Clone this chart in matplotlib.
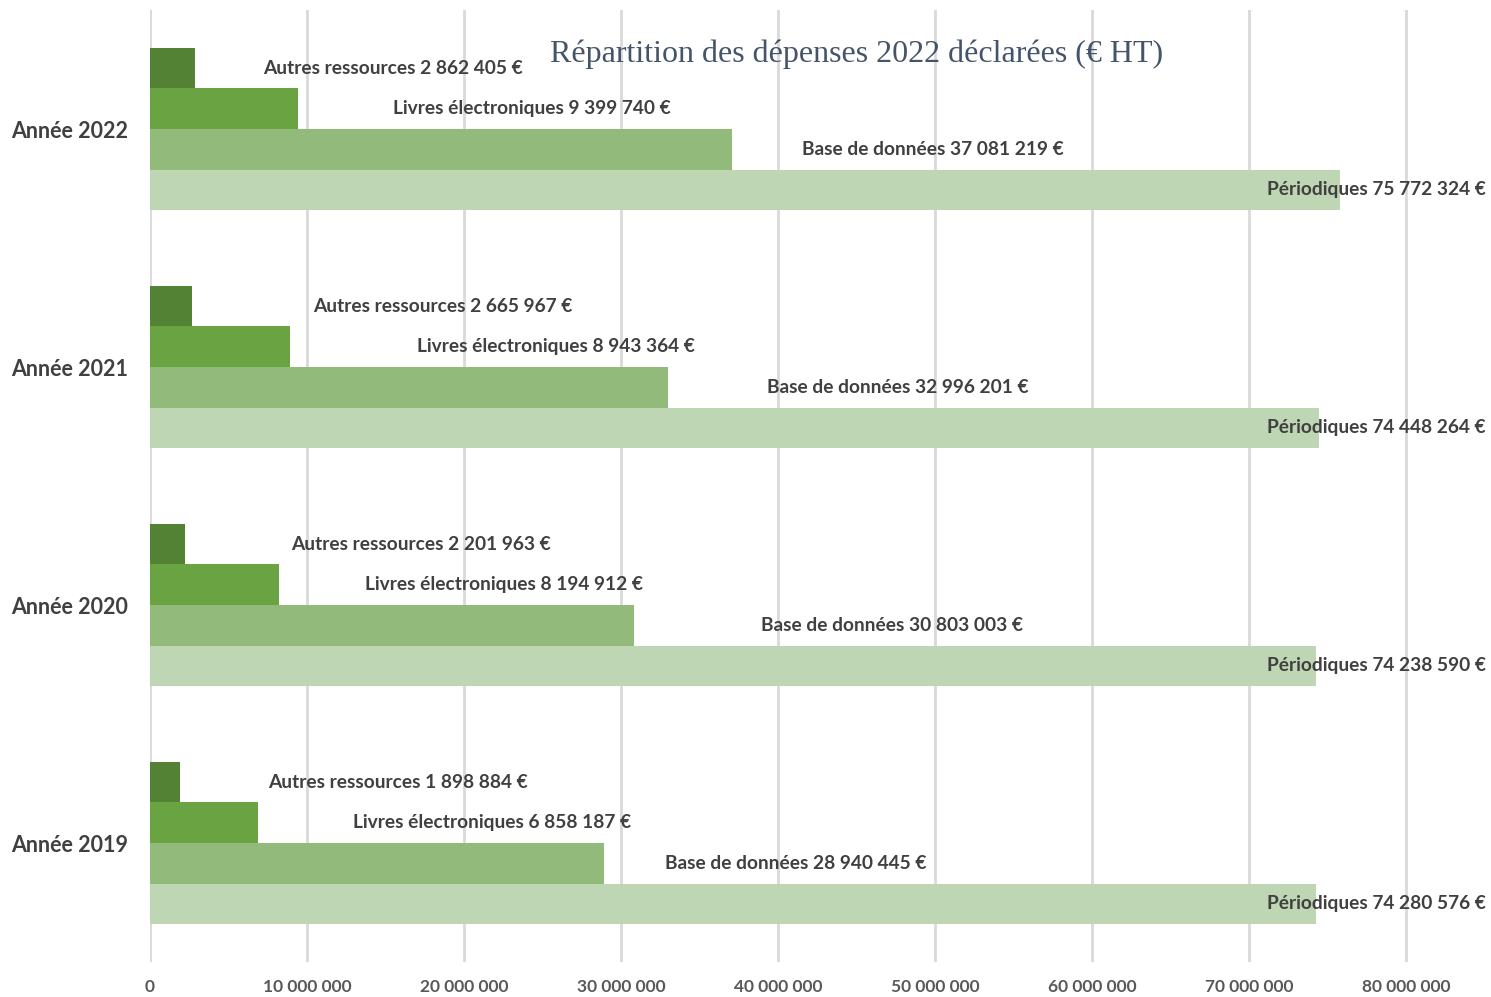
import numpy as np
import matplotlib
matplotlib.use("Agg")
import matplotlib.pyplot as plt

# data
years = ["Année 2019", "Année 2020", "Année 2021", "Année 2022"]
series = ["Autres ressources", "Livres électroniques", "Base de données", "Périodiques"]
autres = [1898884, 2201963, 2665967, 2862405]
livres = [6858187, 8194912, 8943364, 9399740]
bases = [28940445, 30803003, 32996201, 37081219]
periodiques = [74280576, 74238590, 74448264, 75772324]
xticks = np.arange(0, 80000001, 10000000)

# label left edges (data units), as placed by hand in the original
label_left = {
    "Autres ressources": [7.5e6, 9.0e6, 10.4e6, 7.2e6],
    "Livres électroniques": [12.9e6, 13.7e6, 17.0e6, 15.5e6],
    "Base de données": [32.8e6, 38.9e6, 39.3e6, 41.5e6],
}

colors = ["#548235", "#6AA341", "#92BB7B", "#BED6B3"]
values = [autres, livres, bases, periodiques]
offsets = [0.256, 0.085, -0.085, -0.256]
bar_h = 0.171
txt_col = "#404040"
font = ["Lato", "DejaVu Sans"]


def fmt(v):
    return "{:,}".format(v).replace(",", " ")


fig = plt.figure(figsize=(14.91, 9.97), dpi=100)
ax = fig.add_axes([150 / 1491, 35 / 997, 1341 / 1491, 952 / 997])

y = np.arange(len(years))
for name, vals, col, off in zip(series, values, colors, offsets):
    ax.barh(y + off, vals, height=bar_h, color=col, zorder=2)
    for i, v in enumerate(vals):
        label = "{} {} €".format(name, fmt(v))
        if name == "Périodiques":
            ax.text(85.1e6, i + off, label, ha="right", va="center", fontsize=13.8,
                    fontweight="bold", color=txt_col, family=font, zorder=3, clip_on=False)
        else:
            ax.text(label_left[name][i], i + off, label, ha="left", va="center", fontsize=13.8,
                    fontweight="bold", color=txt_col, family=font, zorder=3)

ax.set_xlim(0, 1341 / 15.7 * 1e6)
ax.set_ylim(-0.5, 3.5)
ax.set_xticks(xticks)
ax.set_xticklabels([fmt(int(t)) for t in xticks], fontsize=12.5, fontweight="bold",
                   color="#595959", family=font)
ax.set_yticks(y)
ax.set_yticklabels(years, fontsize=15.5, fontweight="bold", color="#404040", family=font)
ax.tick_params(length=0)
ax.tick_params(axis="x", pad=12)
ax.tick_params(axis="y", pad=15.5)
ax.grid(axis="x", color="#D9D9D9", linewidth=2, zorder=0)
for s in ax.spines.values():
    s.set_visible(False)

fig.text(857 / 1491, 1 - 54 / 997, "Répartition des dépenses 2022 déclarées (€ HT)",
         ha="center", va="center", fontsize=23, color="#44546A", family="Liberation Serif")

fig.savefig("out.png", dpi=100)
